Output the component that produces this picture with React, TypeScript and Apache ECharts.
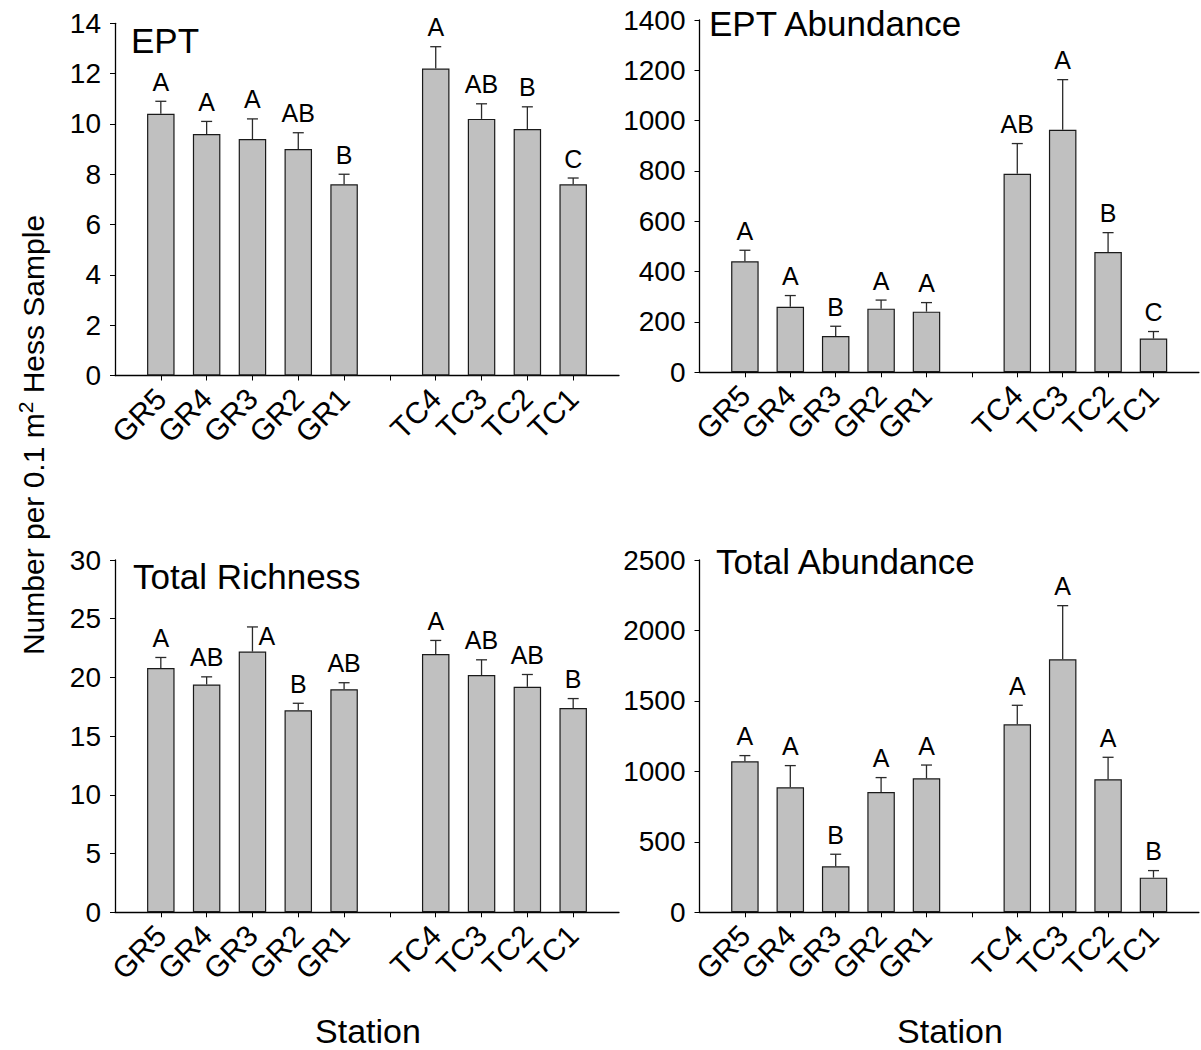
import React, { useEffect, useRef } from 'react';
import * as echarts from 'echarts';

// Category ticks: blank slots at the ends and between the two streams
const stations = ['', 'GR5', 'GR4', 'GR3', 'GR2', 'GR1', '', 'TC4', 'TC3', 'TC2', 'TC1', ''];
const stationSlots = [1, 2, 3, 4, 5, 7, 8, 9, 10];

// Means, standard errors and significance letters (GR5..GR1, TC4..TC1)
const eptMean = [10.4, 9.6, 9.4, 9.0, 7.6, 12.2, 10.2, 9.8, 7.6];
const eptSE = [0.5, 0.5, 0.8, 0.65, 0.4, 0.87, 0.6, 0.88, 0.25];
const eptLetters = ['A', 'A', 'A', 'AB', 'B', 'A', 'AB', 'B', 'C'];

const eptAbMean = [441, 260, 144, 253, 241, 789, 964, 478, 134];
const eptAbSE = [44, 45, 39, 34, 36, 120, 199, 77, 28];
const eptAbLetters = ['A', 'A', 'B', 'A', 'A', 'AB', 'A', 'B', 'C'];

const richMean = [20.8, 19.4, 22.2, 17.2, 19.0, 22.0, 20.2, 19.2, 17.4];
const richSE = [0.9, 0.65, 2.1, 0.6, 0.55, 1.15, 1.3, 1.05, 0.8];
const richLetters = ['A', 'AB', 'A', 'B', 'AB', 'A', 'AB', 'AB', 'B'];

const totAbMean = [1071, 887, 326, 854, 951, 1334, 1795, 944, 246];
const totAbSE = [41, 154, 86, 102, 94, 135, 381, 156, 50];
const totAbLetters = ['A', 'A', 'B', 'A', 'A', 'A', 'A', 'A', 'B'];

const panelTitles = ['EPT', 'EPT Abundance', 'Total Richness', 'Total Abundance'];
const yMax = [14, 1400, 30, 2500];
const yStep = [2, 200, 5, 500];

const FONT = '"Liberation Sans", Arial, Helvetica, sans-serif';

export default function App() {
  const ref = useRef<HTMLDivElement>(null);

  useEffect(() => {
    if (!ref.current) return;
    const chart = echarts.init(ref.current, undefined, { renderer: 'svg' });

    const panels = [
      { mean: eptMean, se: eptSE, letters: eptLetters, sideLabel: -1 },
      { mean: eptAbMean, se: eptAbSE, letters: eptAbLetters, sideLabel: -1 },
      { mean: richMean, se: richSE, letters: richLetters, sideLabel: 2 },
      { mean: totAbMean, se: totAbSE, letters: totAbLetters, sideLabel: -1 },
    ];

    const grids = [
      { left: 115, top: 23.3, width: 504, height: 352.2 },
      { left: 699.5, top: 20, width: 506, height: 352.3 },
      { left: 115, top: 560, width: 504, height: 352.3 },
      { left: 699.5, top: 560, width: 506, height: 352.3 },
    ];

    const xAxis = grids.map((_, i) => ({
      type: 'category',
      gridIndex: i,
      data: stations,
      boundaryGap: false,
      axisLine: { lineStyle: { color: '#000', width: 1.3 } },
      axisTick: {
        interval: (idx: number) => idx >= 1 && idx <= 10,
        length: 5,
        lineStyle: { color: '#000', width: 1 },
      },
      axisLabel: {
        interval: 0,
        rotate: 45,
        margin: 18,
        color: '#000',
        fontSize: 30,
        fontFamily: FONT,
      },
      splitLine: { show: false },
    }));

    const yAxis = grids.map((_, i) => ({
      type: 'value',
      gridIndex: i,
      min: 0,
      max: yMax[i],
      interval: yStep[i],
      axisLine: { show: true, lineStyle: { color: '#000', width: 1.3 } },
      axisTick: { show: true, length: 5, lineStyle: { color: '#000' } },
      axisLabel: {
        margin: 14,
        color: '#000',
        fontSize: 28,
        fontFamily: FONT,
        formatter: (v: number) => String(v),
      },
      splitLine: { show: false },
    }));

    const series: any[] = [];
    panels.forEach((p, i) => {
      const barData: any[] = stations.map(() => '-');
      p.mean.forEach((m, k) => {
        barData[stationSlots[k]] = m;
      });
      series.push({
        type: 'bar',
        xAxisIndex: i,
        yAxisIndex: i,
        data: barData,
        barWidth: 27.5,
        itemStyle: { color: '#c0c0c0', borderColor: '#1a1a1a', borderWidth: 1.2 },
        silent: true,
      });
      const errData = p.mean.map((m, k) => [stationSlots[k], m, p.se[k], k]);
      series.push({
        type: 'custom',
        xAxisIndex: i,
        yAxisIndex: i,
        data: errData,
        encode: { x: 0, y: 1 },
        z: 5,
        silent: true,
        renderItem: (params: any, api: any) => {
          const x = api.value(0);
          const m = api.value(1);
          const se = api.value(2);
          const k = api.value(3);
          const base = api.coord([x, m]);
          const top = api.coord([x, m + se]);
          const cap = 5.5;
          const lineStyle = { stroke: '#2a2a2a', lineWidth: 1.3 };
          const side = k === p.sideLabel;
          return {
            type: 'group',
            children: [
              { type: 'line', shape: { x1: base[0], y1: base[1], x2: top[0], y2: top[1] }, style: lineStyle },
              { type: 'line', shape: { x1: top[0] - cap, y1: top[1], x2: top[0] + cap, y2: top[1] }, style: lineStyle },
              {
                type: 'text',
                style: {
                  text: p.letters[k],
                  x: side ? top[0] + 6 : top[0],
                  y: side ? top[1] + 9 : top[1] - 7,
                  align: side ? 'left' : 'center',
                  verticalAlign: side ? 'middle' : 'bottom',
                  fontSize: 25,
                  fontFamily: FONT,
                  fill: '#000',
                },
              },
            ],
          };
        },
      });
    });

    const titlePos = [
      [131, 40],
      [709, 23.5],
      [133, 576],
      [716, 561],
    ];

    const graphic: any[] = panelTitles.map((t, i) => ({
      type: 'text',
      x: titlePos[i][0],
      y: titlePos[i][1],
      style: {
        text: t,
        fontSize: 35,
        fontFamily: FONT,
        fill: '#000',
        align: 'left',
        verticalAlign: 'middle',
      },
    }));

    graphic.push({
      type: 'text',
      x: 33,
      y: 435,
      rotation: Math.PI / 2,
      style: {
        text: 'Number per 0.1 m{sup|2} Hess Sample',
        fontSize: 30,
        fontFamily: FONT,
        fill: '#000',
        align: 'center',
        verticalAlign: 'middle',
        lineHeight: 36,
        rich: {
          sup: { fontSize: 21, fontFamily: FONT, fill: '#000', verticalAlign: 'top', lineHeight: 36 },
        },
      },
    });
    graphic.push({
      type: 'text',
      x: 368,
      y: 1031,
      style: { text: 'Station', fontSize: 34, fontFamily: FONT, fill: '#000', align: 'center', verticalAlign: 'middle' },
    });
    graphic.push({
      type: 'text',
      x: 950,
      y: 1031,
      style: { text: 'Station', fontSize: 34, fontFamily: FONT, fill: '#000', align: 'center', verticalAlign: 'middle' },
    });

    chart.setOption({
      animation: false,
      backgroundColor: '#fff',
      grid: grids.map((g) => ({ ...g, containLabel: false })),
      xAxis,
      yAxis,
      series,
      graphic,
    });

    return () => chart.dispose();
  }, []);

  return (
    <div
      ref={ref}
      style={{ position: 'fixed', left: 0, top: 0, width: 1201, height: 1050, background: '#fff' }}
    />
  );
}
